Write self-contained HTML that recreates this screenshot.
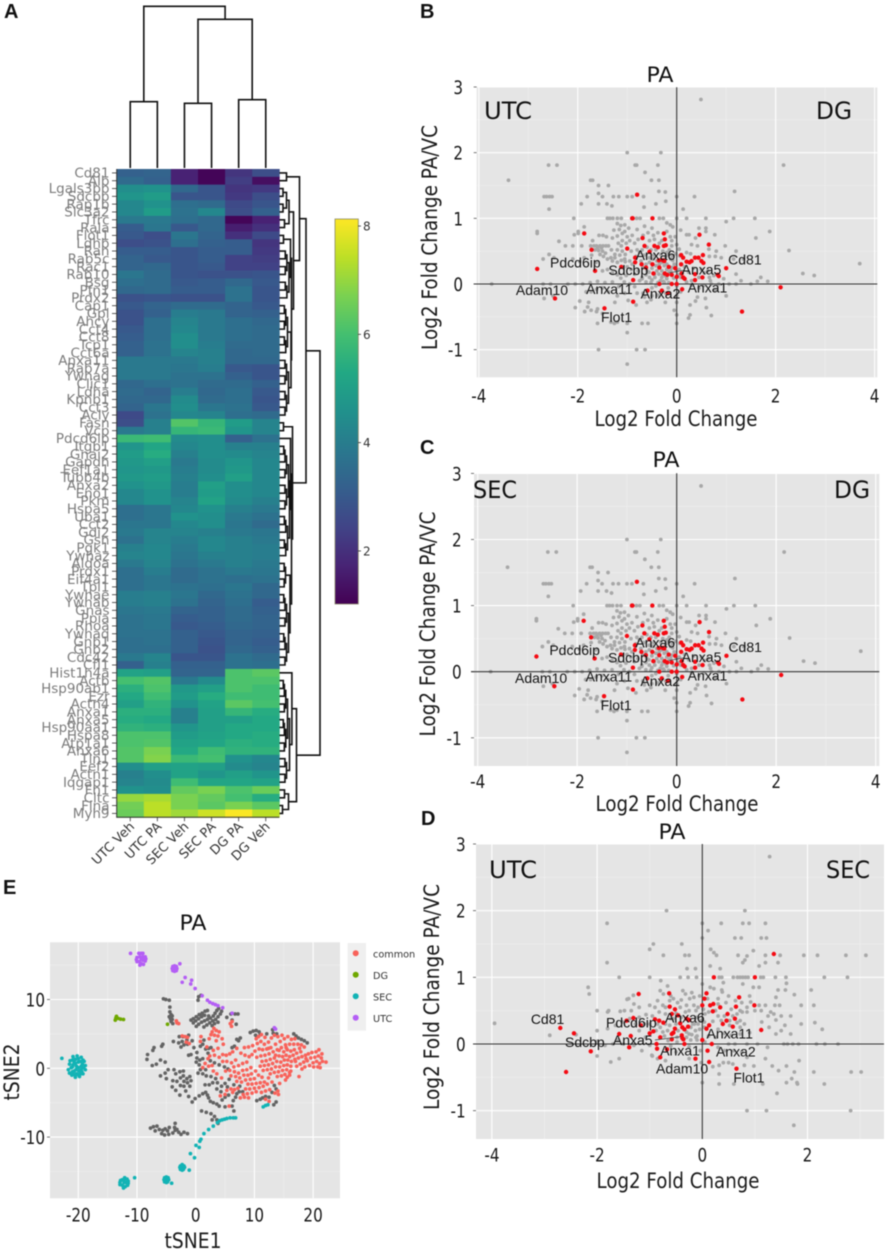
<!DOCTYPE html>
<html lang="en">
<head>
<meta charset="utf-8">
<title>Proteomics heatmap, volcano-style scatter plots and tSNE</title>
<style>
html,body{margin:0;padding:0;background:#fff}
svg{display:block;filter:blur(.4px)}
text{font-family:"DejaVu Sans",sans-serif}
.pl{font-family:"Liberation Sans",Arial,sans-serif;font-weight:bold;font-size:20px;fill:#111}
.ti{font-size:21px;fill:#111;text-anchor:middle}
.ax{font-size:21px;fill:#1a1a1a;text-anchor:middle}
.cn{font-size:24px;fill:#111}
</style>
</head>
<body>
<svg id="fig" xmlns="http://www.w3.org/2000/svg" width="886" height="1251" viewBox="0 0 886 1251">
<rect width="886" height="1251" fill="#fff"/>

<text class="pl" x="4" y="18">A</text>
<text class="pl" x="420" y="18">B</text>
<text class="pl" x="420" y="454">C</text>
<text class="pl" x="421" y="825">D</text>
<text class="pl" x="3" y="894">E</text>

<g id="heatmap"></g>
<g id="panelB"></g>
<g id="panelC"></g>
<g id="panelD"></g>
<g id="panelE"></g>

<!-- Panel B text -->
<text class="ti" x="660" y="82" textLength="27" lengthAdjust="spacingAndGlyphs">PA</text>
<text class="cn" x="484" y="119" textLength="48" lengthAdjust="spacingAndGlyphs">UTC</text>
<text class="cn" x="816" y="119" textLength="36" lengthAdjust="spacingAndGlyphs">DG</text>
<text class="ax" x="676" y="426" textLength="163" lengthAdjust="spacingAndGlyphs">Log2 Fold Change</text>
<text class="ax" transform="translate(437,237.5) rotate(-90)" textLength="225" lengthAdjust="spacingAndGlyphs">Log2 Fold Change PA/VC</text>
<!-- Panel C text -->
<text class="ti" x="666" y="467" textLength="27" lengthAdjust="spacingAndGlyphs">PA</text>
<text class="cn" x="473" y="498" textLength="44" lengthAdjust="spacingAndGlyphs">SEC</text>
<text class="cn" x="834" y="498" textLength="36" lengthAdjust="spacingAndGlyphs">DG</text>
<text class="ax" x="677" y="811" textLength="163" lengthAdjust="spacingAndGlyphs">Log2 Fold Change</text>
<text class="ax" transform="translate(435,624) rotate(-90)" textLength="225" lengthAdjust="spacingAndGlyphs">Log2 Fold Change PA/VC</text>
<!-- Panel D text -->
<text class="ti" x="672" y="839" textLength="27" lengthAdjust="spacingAndGlyphs">PA</text>
<text class="cn" x="489" y="878" textLength="48" lengthAdjust="spacingAndGlyphs">UTC</text>
<text class="cn" x="826" y="878" textLength="44" lengthAdjust="spacingAndGlyphs">SEC</text>
<text class="ax" x="678" y="1188" textLength="163" lengthAdjust="spacingAndGlyphs">Log2 Fold Change</text>
<text class="ax" transform="translate(439,997) rotate(-90)" textLength="226" lengthAdjust="spacingAndGlyphs">Log2 Fold Change PA/VC</text>
<!-- Panel E text -->
<text class="ti" x="193" y="930" textLength="27" lengthAdjust="spacingAndGlyphs">PA</text>
<text class="ax" x="193" y="1248" textLength="57" lengthAdjust="spacingAndGlyphs">tSNE1</text>
<text class="ax" transform="translate(19,1072) rotate(-90)" textLength="57" lengthAdjust="spacingAndGlyphs">tSNE2</text>
</svg>

<script>
/* ---------- heatmap data ---------- */
const heatColumns = ['UTC Veh','UTC PA','SEC Veh','SEC PA','DG PA','DG Veh'];
const heatGenes = ['Cd81','Alb','Lgals3bp','Sdcbp','Rap1b','Slc3a2','Tfrc','Rala','Flot1','Ldhb','Ran','Rab5c','Rac1','Rab10','Bsg','Pfn1','Prdx2','Cap1','Gpi','Ahcy','Cct4','Cct8','Tcp1','Cct6a','Anxa11','Rab7a','Ywhag','Clic1','Ldha','Kpnb1','Cct3','Acly','Fasn','Vcp','Pdcd6ip','Itgb1','Gnai2','Gapdh','Eef1a1','Tubb4b','Anxa2','Eno1','Pkm','Hspa5','Uba1','Cct2','Gdi2','Gsn','Pgk1','Ywhaz','Aldoa','Prdx1','Eif4a1','Tpi1','Ywhae','Ywhab','Gnas','Ppia','Rhoa','Ywhaq','Gnb1','Gnb2','Cdc42','Cfl1','Hist1h4a','Actb','Hsp90ab1','Ezr','Actn4','Anxa1','Anxa5','Hsp90aa1','Hspa8','Atp1a1','Anxa6','Tln1','Eef2','Actn1','Iqgap1','Fn1','Cltc','Flna','Myh9'];
const heatValues = [
[3.2,3.3,1.7,1.1,2.1,2.7],[3.5,3.2,1.7,1.1,2.3,1.3],[4.5,4.6,3.4,2.9,2.1,2.2],[4.7,4.9,2.9,2.9,2.2,2.7],
[4.3,4.6,3.6,3.5,2.6,2.9],[4.3,4.9,3.7,4.3,2.7,3.2],[3.9,3.9,3.6,3.4,1.1,1.7],[3.1,3.8,3.0,3.4,1.6,2.0],
[3.0,2.7,3.8,3.3,2.0,2.6],[2.7,2.8,3.6,3.2,3.1,2.1],[3.1,3.1,2.9,3.1,3.1,2.2],[3.3,3.0,2.9,3.1,2.4,2.3],
[3.3,3.4,2.9,3.0,2.4,2.4],[3.8,3.5,2.9,2.8,2.8,2.9],[3.6,3.5,3.0,3.1,3.4,3.0],[3.4,3.5,3.1,3.1,3.7,2.9],
[2.8,2.9,2.8,2.8,3.7,2.9],[3.0,3.3,3.5,3.5,3.3,3.0],[2.8,3.2,4.0,3.9,3.3,3.2],[2.8,3.6,4.2,3.9,3.6,3.4],
[3.0,3.6,4.3,3.9,3.6,3.5],[3.1,3.6,4.5,3.9,3.6,3.5],[3.2,3.7,4.5,4.0,3.5,3.5],[3.2,3.7,4.2,4.1,3.4,3.5],
[3.9,3.9,3.9,4.1,3.4,3.4],[3.9,3.9,3.8,4.0,3.0,2.9],[3.9,3.9,3.7,3.7,3.2,2.9],[3.4,3.6,3.7,3.5,3.5,3.2],
[3.5,3.3,4.0,3.4,3.6,3.0],[3.4,3.4,4.4,3.5,3.6,2.9],[3.3,3.8,4.5,3.8,3.7,3.0],[2.6,3.7,4.3,4.2,3.6,3.5],
[2.7,4.1,6.2,5.7,4.9,4.2],[3.9,4.1,5.7,5.8,4.7,4.2],[5.8,5.9,4.4,4.5,3.2,3.7],[4.7,5.2,4.3,4.5,4.1,4.1],
[4.9,5.4,4.1,4.5,4.4,4.2],[4.8,5.0,3.9,4.4,4.7,4.3],[4.7,4.8,4.0,4.4,4.8,4.3],[4.8,4.9,4.1,4.5,5.0,4.3],
[4.6,4.8,4.0,5.0,4.5,4.3],[4.3,4.6,4.0,4.9,4.5,4.3],[4.3,4.6,4.2,5.1,4.4,4.1],[3.6,3.8,4.3,4.6,4.1,3.9],
[3.6,3.8,4.6,4.5,3.9,3.7],[3.8,3.8,4.3,4.5,3.8,3.5],[3.9,4.2,4.2,4.1,3.9,3.8],[3.7,4.2,4.0,4.3,4.1,3.9],
[4.1,4.3,3.9,4.3,4.1,4.0],[4.2,4.3,3.8,4.1,4.1,4.0],[3.9,4.2,3.7,3.9,4.1,3.9],[3.6,4.0,3.5,3.7,3.9,3.8],
[3.6,3.8,3.5,3.7,3.6,3.7],[3.6,3.8,3.7,3.6,3.8,3.4],[4.0,4.1,3.8,3.4,3.7,3.4],[4.0,4.1,3.7,3.3,3.6,3.1],
[3.8,3.9,3.3,3.2,3.5,3.2],[3.7,3.8,3.1,3.2,3.5,3.3],[3.7,3.8,3.0,3.1,3.4,3.3],[3.7,3.7,3.2,3.0,3.3,3.2],
[3.6,3.7,3.2,2.9,3.3,3.1],[3.6,3.6,3.2,2.8,3.4,3.2],[3.9,4.2,2.9,2.9,3.7,3.5],[3.2,4.1,3.2,3.2,3.7,3.6],
[5.1,5.0,3.3,3.3,6.1,6.3],[6.0,6.2,3.9,4.4,6.1,6.1],[5.5,6.1,4.8,5.0,6.1,5.9],[5.3,5.9,4.9,5.4,5.9,5.9],
[5.0,5.6,4.6,5.1,6.3,6.0],[5.5,5.5,4.1,5.0,5.7,5.4],[5.4,5.3,4.1,5.0,5.0,5.3],[5.6,5.5,4.7,5.0,5.3,5.3],
[6.1,6.1,4.9,5.1,5.3,5.4],[6.1,6.2,5.1,5.2,5.5,5.4],[6.2,6.7,5.3,5.9,5.6,5.6],[6.2,6.8,5.8,6.0,4.6,4.3],
[4.5,5.0,5.1,5.0,4.4,4.2],[4.1,4.5,5.1,4.7,5.0,4.7],[4.2,4.4,5.9,5.2,5.2,5.1],[4.6,4.5,6.4,6.7,6.1,6.5],
[7.0,7.2,6.7,6.4,6.0,5.4],[6.6,7.4,6.7,6.3,6.7,6.3],[6.5,7.4,7.1,7.6,8.1,7.4]];
const colorbarTicks = [2,4,6,8];
/* dendrograms: [merge height, left, right]; leaves are indices; ['s',a,b,h] is a compact block of neighbouring leaves */
const colTree = [161.7,[66.3,0,1],[148.7,[64.7,2,3],[68.3,4,5]]];
const rowTree = [40.5,
 [26.5,
  [20,[7,0,1],[14,
    [9.5,[7,[3.5,2,3],[3.5,4,5]],[5,6,7]],
    [12,[11,[4,8,9],['s',10,16,9.5]],[11.5,['s',17,23,8],['s',24,31,9]]]]],
  [13,[4,32,33],[12,[11,34,[10,['s',35,43,9],['s',44,49,8]]],[10.5,['s',50,53,6],['s',54,63,9]]]]],
 [17,[12.4,64,[10,['s',65,74,8],['s',75,78,7]]],[9,[5,79,80],[3,81,82]]]];

/* ---------- shared scatter data: log2 fold change, PA/VC ---------- */
const greyPointsBC = [[.49,2.81],[-1,2],[-.32,2],[2.16,1.81],[-2.59,1.81],[-2.42,1.81],[-.84,1.81],[-.81,1.81],[-.38,1.81],[-.64,1.7],[-3.4,1.58],[-1.74,1.58],[-1.7,1.58],[-.51,1.58],[-.36,1.58],[-1.58,1.5],[-1.38,1.5],[1.17,1.41],[-.36,1.41],[-.23,1.4],[-2.68,1.33],[-2.63,1.33],[-2.57,1.33],[-2.52,1.33],[-1.81,1.33],[-1.58,1.38],[-1.5,1.33],[-1.28,1.33],[-1.17,1.33],[-1,1.33],[-.9,1.33],[-.67,1.33],[0,1.33],[.36,1.33],[-1.93,1.22],[-1.58,1.22],[-1.41,1.22],[-1.31,1.19],[-.42,1.22],[-.22,1.26],[-.66,1.17],[-2.58,1.14],[.13,1.14],[-2.08,1],[-1.4,1],[-1.35,1],[-1.29,1],[-1.2,1],[-1.12,1],[-.81,1],[-.74,1],[-.35,1],[-.27,1],[0,1],[.2,1],[.59,1],[1.15,1],[1.58,1],[1,.95],[-1.87,.87],[-1.99,.8],[-1.99,.77],[-2.82,.8],[-2.82,.77],[-2.07,.75],[1.88,.8],[1.6,.7],[2.27,.51],[2.55,.16],[2.78,.13],[3.7,.31],[-3.74,0],[-2.7,0],[-2.55,0],[-2.5,-.18],[-2.68,-.22],
[-1.2,.92],[-1.13,.89],[-1.05,.9],[-.65,.88],[-.5,.85],[-.2,.93],[-.13,.9],[-.08,.87],[-1.27,.82],[-1.16,.83],[-1.05,.8],[-.97,.85],[-.8,.83],[.45,.85],[.59,.85],[.59,.8],[.77,.75],[.08,.82],[.2,.75],[.25,.75],[.38,.7],[-.38,.78],[-.47,.74],[-.58,.78],[-.68,.74],[-.9,.74],[-1,.72],[-1.1,.77],[-1.2,.73],[-1.3,.7],[-1.42,.72],[-1.49,.74],[-1.57,.74],[-1.7,.66],[-2.1,.58],[-2.25,.58],[-2.38,.65],[-1.92,.58],[-1.74,.58],[-1.67,.58],[-1.62,.58],[-1.55,.58],[-1.49,.58],[-1.43,.58],[-1.38,.58],[-1.65,.52],[-1.58,.51],[-1.5,.5],[-1.44,.47],[-1.32,.52],[-1.2,.52],[-1.1,.5],[-1.04,.45],[-.92,.5],[-.8,.52],[-.7,.52],[-.1,.58],[0,.6],[.05,.53],[-.1,.66],[-.03,.72],[-.13,.72],[-.2,.8],[-.15,.52],[.3,.6],[.42,.58],[.65,.53],[.98,.58],[.8,.5],[.9,.4],[.78,.42],[.66,.42],[1.2,.5],[1.15,.38],[1.35,.38],[1.2,.15],[1.3,.05],[1.63,.04],[1.7,.1],[1.84,.04],[1.5,0],[1.2,0],[1.06,0],[.95,.08],[.63,.2],[.75,.13],[.68,.05],[.5,.22],[.28,.46],[.2,.48],[.06,.43],[-.02,.46],[-.08,.43],[-.12,.38],[-.2,.48],[-.32,.45],[-.46,.44],[-.55,.4],[-.66,.44],[-.72,.35],[-2.1,.38],[-2.7,.38],[-2.58,.45],[-2.48,.4],[-1.96,.34],[-1.87,.4],[-1.72,.44],[-1.63,.33],[-1.33,.4],[-1.25,.4],[-1.2,.33],[-1.12,.36],[-1.04,.34],[-1.0,.26],[-.92,.22],[-1.4,.22],[-1.5,.2],[-1.3,.17],[-1.2,.14],[-1.13,.09],[-1.06,.03],[-1.02,.13],[-.7,.08],[-.62,.03],[-.5,.06],[-.44,.1],[-.4,.2],[-.36,.15],[-.3,.1],[-.27,.04],[-.2,.08],[-.16,.02],[-.42,.28],[-.5,.24],[-.56,.18],[-.3,.2],[-.2,.3],[-.12,.2],[-.06,.09],[.05,.22],[.08,.1],[.16,.26],[.24,.18],[.34,.24],[.45,.1],[.56,.17],[.66,.1],[.2,.03],[.3,.05],
[-2.2,0],[-2.05,0],[-1.9,0],[-1.75,.02],[-1.6,.04],[-1.45,.02],[-1.3,.03],[-1.17,-.04],[-.95,0],[-.85,-.04],[-.5,-.06],[-.42,-.03],[.0,-.03],[.3,-.02],[.55,-.02],[.7,0],[.85,0],[1,-.18],[.78,-.1],[.58,-.22],[.45,-.06],[.38,-.26],[.27,-.32],[.08,-.12],[0,-.18],[0,-.28],[-.05,-.4],[-.17,-.06],[-.22,-.14],[-.23,-.28],[-.38,-.17],[-.5,-.18],[-.52,-.24],[-.6,-.28],[-.65,-.2],[-.68,-.14],[-.98,-.25],[-.8,-.14],[-.82,-.32],[-1.05,-.14],[-1.2,-.18],[-1.25,-.28],[-1.38,-.12],[-1.5,-.06],[-1.62,-.08],[-1.73,-.12],[-1.83,-.12],[-1.96,-.26],[-2.05,-.36],[-1.86,-.42],[-1.8,-.35],[-1.78,-.28],[-1.73,-.4],[-1.62,-.42],[-1.6,-.38],[-1.5,-.45],[-1.6,-.6],[-1.33,-.58],[-1.26,-.6],[-1.2,-.58],[-1,-.6],[-.7,-.6],[-.58,-.6],[0,-.6],[.24,-.52],[.7,-.48],[0,-.47],[.27,-.47],[-1,-.74],[-1.58,-1],[-.81,-1],[-.64,-1],[-1,-1.22],[.42,-.2],[.6,-.36],
[-.7,.1],[-.62,.14],[-.55,.1],[-.62,.3],[-.55,.33],[-.48,.38],[-.4,.35],[-.35,.3],[-.3,.33],[-.25,.28],[-.2,.22],[-.15,.18],[-.1,.25],[-.05,.3],[0,.2],[.03,.14],[-.28,.14],[-.33,.05],[-.38,.02],[-.25,.02],[-.22,.12],[-.45,.15],[-.52,.02],[-.6,.2],[-.68,.25],[-.78,.2],[-.85,.15],[-.75,.05],[-.82,.42],[-.75,.48],[-.6,.56],[-.52,.52],[-.42,.52],[-.35,.62],[-.28,.5],[-.22,.42],[-.15,.45],[-.08,.36],[-1.55,.45],[-1.48,.42],[-1.4,.38],[-1.3,.35],[-1.25,.45],[-1.15,.44],[-1.05,.38],[-.95,.35],[-.9,.3],[-1.6,.55],[-1.52,.55],[-1.18,.62],[-1.1,.66],[-1.02,.62],[-1.12,.58],[-.95,.66],[-.85,.62],[-.78,.68],[-.55,.66],[-.45,.68],[-.3,.66]];
const redPointsBC = [[-.8,1.36],[-.9,1],[-.89,1],[-.49,1],[-1.87,.77],[-.69,.7],[-.26,.77],[.46,.75],[-.24,.68],[.65,.6],[-1,.54],[-1.72,.52],[-.45,.58],[-.38,.56],[-.26,.58],[-.22,.59],[-.65,.58],[-.55,.49],[-.84,.4],[-.84,.33],[.09,.44],[.13,.4],[.37,.4],[.44,.4],[.53,.44],[.5,.35],[.54,.32],[.2,.34],[.26,.33],[.3,.35],[.09,.3],[-.36,.36],[-.28,.36],[-.25,.35],[-.49,.3],[-.71,.3],[-.62,.25],[-1.12,.26],[-2.82,.23],[-1.65,.2],[-.35,.25],[-.16,.26],[-.03,.24],[1,.24],[-.47,.16],[-.24,.16],[-.19,.14],[-.1,.14],[.1,.16],[.37,.15],[.83,.14],[-.88,.06],[0,.11],[.13,.1],[.16,.08],[.37,.06],[.52,.1],[.85,.12],[-.35,0],[-.1,0],[0,0],[.11,-.08],[-.3,-.1],[-.59,-.1],[-.88,-.27],[-2.46,-.22],[-1.46,-.37],[1.32,-.42],[2.1,-.05],[-.18,-.14]];
const annotationLabelsBC = ['Pdcd6ip','Anxa6','Cd81','Sdcbp','Anxa5','Adam10','Anxa11','Anxa1','Anxa2','Flot1'];
const annotationXBC = [-2.56,-.83,1.04,-1.38,.10,-3.25,-1.83,.22,-.73,-1.53];
const annotationYBC = [.25,.365,.30,.14,.147,-.17,-.152,-.132,-.218,-.579];

const greyPointsD = [[1.28,2.81],[-.68,2],[.81,2],[-1.81,1.81],[0,1.81],[.36,1.81],[.77,1.81],[.89,1.81],[1.2,1.81],[.11,1.7],[0,1.59],[.62,1.59],[.74,1.59],[1.12,1.59],[1.22,1.59],[-.93,1.5],[-.39,1.5],[-1,1.42],[.16,1.42],[.22,1.37],[.97,1.4],[.85,1.32],[-.74,1.33],[-.33,1.33],[-.25,1.33],[.27,1.33],[.68,1.33],[1.2,1.33],[1.48,1.33],[1.93,1.33],[2.19,1.33],[2.73,1.33],[3.11,1.33],[-1.81,1.22],[.81,1.26],[.77,1.22],[1.2,1.22],[1.44,1.22],[-.29,1.13],[-.13,1.13],[.15,1.17],[.34,1.13],[1.08,1.17],[-1.58,1],[-1,1],[-.42,1],[-.27,1],[-.11,1],[.32,1],[.37,1],[.59,1],[.67,1],[.72,1],[.77,1],[.82,1],[.87,1],[1.11,1],[1.16,1],[1.39,1],[1.59,1],[2.32,1],[2.76,1],[-.79,.95],[1.6,.91],[-2.17,.85],[-2.15,.75],[-.66,.87],[0,.9],[.15,.85],[.22,.83],[.37,.81],[.4,.92],[.77,.9],[.97,.85],[1.08,.85],[1.44,.81],[1.58,.81],[2.07,.81],[-1.31,.73],[-1.4,.68],[-1.43,.67],[-.8,.8],[-.74,.75],[-.6,.72],[-.37,.8],[-.32,.75],[-.4,.66],[-.2,.77],[-.16,.7],[-.24,.68],[-.05,.72],[.1,.68],[.3,.68],[.38,.78],[.5,.72],[.9,.72],[.63,.65],[.75,.62],[.92,.63],[1.08,.58],[1.2,.58],[1.4,.7],[1.38,.58],[1.47,.58],[1.88,.58],[1.75,.74],[2.12,.58],[-1.3,.6],[-1.2,.55],[-2,.5],[-1.8,.48],[-1.78,.5],[-1.56,.49],[-1.48,.5],[-1.35,.5],[-1,.58],[-.9,.55],[-.75,.58],[-.62,.65],[-.47,.62],[-.3,.58],[-.12,.5],[.05,.45],[.25,.5],[.42,.42],[.66,.45],[.72,.5],[.76,.48],[.85,.48],[1,.5],[1.12,.5],[1.3,.48],[1.36,.45],[1.25,.42],[1.5,.42],[1.68,.42],[1.4,.36],[1.57,.28],[1.88,.3],[2.28,.22],[2.14,.32],[1.13,.33],[1.27,.25],[1.4,.15],[1.5,.2],[1.68,.15],[.8,.3],[.72,.35],[.52,.28],[.3,.22],[.42,.16],[.55,.13],[.72,.15],[.9,.17],[.2,.34],[.04,.33],[-.1,.4],[-.18,.3],[-.13,.2],[-.05,.22],[-.2,.14],[-.1,.12],[-.6,.38],[-.7,.45],[-.82,.48],[-.95,.42],[-1.07,.44],[-1.2,.4],[-1.27,.3],[-1.38,.38],[-1.52,.33],[-1.65,.28],[-1.8,.23],[-2,.2],[-2.9,.13],[-3.95,.31],[-2.4,.14],[-1.2,.2],[-1.08,.1],[-.88,.2],[-.72,.12],[-.66,.2],[-.48,.1],[-.3,.1],[-.22,.06],[-.1,.06],[-1.6,.06],[-2,.04],[-1.85,-.02],[-1.7,0],[-1.5,0],[-1.3,-.02],[-1.15,-.1],[-1,-.02],[-.95,-.18],[-.6,-.03],[-.5,-.12],[-.25,-.04],[-.04,-.1],[-.25,-.22],[-.02,-.28],[.3,-.05],[.5,0],[.62,0],[.85,0],[1.05,0],[1.24,-.05],[1.55,0],[1.62,0],[1.72,0],[1.83,0],[2.17,0],[2.33,0],[2.58,0],[.42,-.1],[.6,-.1],[.75,-.12],[.85,-.2],[.4,-.28],[.5,-.28],[.58,-.3],[.2,-.34],[.32,-.32],[.8,-.32],[.98,-.33],[1.2,-.22],[1.33,-.33],[1.45,-.4],[1.6,-.33],[1.84,-.25],[2.12,-.42],[2.83,-.42],[3.02,-.42],[1.75,-.42],[1.7,-.52],[1.6,-.58],[1.8,-.58],[1.81,-.6],[2.32,-.6],[1.15,-.6],[.6,-.6],[.32,-.6],[.32,-.45],[0,-.58],[1.42,-.74],[.85,-1],[1.22,-1],[2.82,-1],[1.74,-1.22],[-2,-.18],[-1.74,-.27],[-1.58,-.22],[-.96,-.17],[-.85,-.22],[-.7,-.25],
[-.7,.3],[-.62,.28],[-.5,.3],[-.46,.2],[-.3,.18],[-.22,.25],[-.15,.3],[-.08,.3],[-.02,.35],[.04,.25],[-.55,.38],[-.4,.4],[-.32,.48],[-.25,.5],[-.16,.58],[-.08,.55],[.02,.52],[.12,.48],[.3,.42],[.36,.35],[.52,.35],[.58,.42],[.66,.32],[.72,.25],[-.8,.25],[-.85,.3],[-1,.3],[-1.1,.3],[-.75,.18],[-.65,.05],[-.48,.03],[-.25,.15],[-.12,.1],[-.5,.46],[-.42,.55],[-.7,.55],[-.85,.65],[-.55,.68],[.3,.6],[.45,.62],[.55,.52],[.85,.55],[.12,.12],[.25,.1],[.05,.03]];
const redPointsD = [[1.36,1.35],[.22,1],[1,1],[-1.21,.75],[-.63,.76],[.08,.76],[.7,.7],[.04,.68],[.21,.6],[.15,.58],[0,.58],[-.62,.56],[.34,.55],[.64,.56],[.99,.58],[-.52,.52],[.2,.49],[-.58,.45],[.48,.45],[-.46,.43],[-1.31,.39],[-1.44,.35],[-.9,.37],[-.82,.35],[-.74,.32],[-.3,.38],[-.25,.36],[.62,.38],[.46,.35],[.39,.3],[.13,.28],[-.42,.31],[-1.17,.28],[-.27,.26],[.08,.23],[.58,.26],[1.12,.21],[-.38,.25],[-.52,.23],[-.34,.22],[-.93,.19],[-1,.16],[-2.7,.24],[-2.44,.16],[-1.58,.15],[-1.36,.12],[-.58,.15],[-.55,.17],[-.39,.13],[-.8,.1],[-.58,.07],[-.38,.09],[-.36,.07],[0,.06],[-.34,0],[-.87,0],[.18,0],[-.86,-.07],[-1.39,-.05],[-2.12,-.11],[-.67,-.08],[.1,-.1],[-.8,-.2],[-.13,-.22],[.13,-.27],[.65,-.37],[-2.59,-.42]];
const annotationLabelsD = ['Cd81','Pdcd6ip','Anxa6','Sdcbp','Anxa5','Anxa11','Anxa1','Anxa2','Adam10','Flot1'];
const annotationXD = [-3.26,-1.83,-.71,-2.61,-1.70,.08,-.80,.26,-.88,.59];
const annotationYD = [.30,.25,.325,-.045,-.015,.08,-.17,-.19,-.44,-.58];

/* ---------- tSNE data ---------- */
const tsneNotSignificant = [[-5.5,10.1],[-5.1,10],[-4.5,9.9],[-4.4,8.9],[-4.4,8.2],[-4.2,7.8],[-4.5,7.5],[-4,7.6],[-4.3,7.2],[-4,7.1],[-4.2,6.8],[-3.9,6.5],[.5,10.4],[.9,10.6],[.4,9.9],
[-.8,7],[-.4,7.2],[.1,7.5],[.6,7.8],[1.1,8],[1.6,8.3],[2,8.4],[-.4,6.6],[0,6.9],[.5,7.2],[1,7.5],[1.5,7.7],[2.2,7.6],[.1,6.1],[.5,6.4],[1,6.7],[1.5,6.9],[2,7.1],[2.5,7.3],[3,7.6],[3.3,8],[3.6,8.4],[3.9,8.7],[1.4,6],[1.9,6.3],[2.4,6.6],[2.9,6.9],[3.4,7.1],[3.8,7.5],[4.2,7.9],[4.4,8.3],[2.8,6.2],[3.2,6.5],[3.8,6.7],[6,7.9],[6.7,7.9],[7.2,7.9],[5.3,7.4],[6.2,7],[6.9,6.4],
[9.3,5.2],[9.8,5.4],[10.3,5.5],[10.8,5.3],[10.2,4.8],[11,4.9],[12.1,5],[13.1,5.6],[13.2,5.1],[13.8,5],[16.7,5],[17.1,4.7],[17.5,4.4],[18,4.2],[18.5,4],[19,3.7],[7,4.2],[7.6,4.4],[7.3,4],[6.6,3.2],[6.2,3],[2.6,3],[2.2,2.9],
[-3.8,3.9],[-2.8,4.6],[-2.2,4.6],[-1.2,4.8],[-2.9,3.7],[-2.3,3.9],[-1.5,4.1],[-2.5,3.1],[-2,3.4],[-1.4,3.5],[-.6,4],[-.3,3],[-.8,2],[-1.2,1.9],[.2,2.3],[.8,3.2],[1.4,4.1],[1.2,3.5],[1.7,2.8],[2.1,2.2],[1.2,1.4],[.7,1.2],[.2,1.5],[.1,.9],[.6,.5],[.8,-.2],[.4,-.7],[1.2,-.8],[1.8,-1.1],[2.6,-1.2],[1.7,-.2],[2.5,1.1],[3.2,.8],[4,.5],[4.9,.2],[5.5,-.1],[3.4,-1.5],[2.9,-2.1],[3.7,-2.1],[4.4,-2.6],[5,-2.2],[5.7,-1.6],[5.4,-2.7],[6.5,-2.4],[2.3,-2.4],[1.6,-2.4],[3.6,-3],[4.3,-3.4],
[-8.2,2],[-8.3,1.3],[-7.3,2.6],[-7.1,3],[-5.8,3.2],[-5.6,3.5],[-6.7,.6],[-6,1.2],[-5.2,.9],[-4.7,-.2],[-5.2,-.7],[-6,-1.1],[-5,-1.5],[-3.7,-.2],[-7.4,.4],
[-2.1,-.4],[-2.7,-.5],[-3.4,-.8],[-2.1,-1.1],[-2.6,-1.4],[-3.2,-1.9],[-3.9,-1.8],[-1.5,-1.5],[-2,-1.9],[-1,-1.2],[-.8,-1.8],[-1.4,-2.1],[-2.6,-2.5],[-2,-2.6],[-1,-2.6],[-4,-2.7],[-3.4,-3.2],[-2.7,-3.9],[-1.7,-3.3],[-1.2,-4.1],[-.6,-4.9],[-.1,-4.4],[.6,-4],[1.2,-3.7],[1.7,-3.5],[2,-3.9],[2.2,-4.3],[2.5,-4.8],[3,-5],[3.6,-5.2],[4,-5.5],[4.5,-4.6],[5,-4.2],[5.6,-3.9],[5,-5.6],[6.2,-5.5],[6.4,-4.7],[6.8,-4.2],[7,-3.7],[7.4,-3.4],[6.5,-6.2],[7.5,-2.6],[8,-3.4],[10.4,-4.7],[11,-4.5],[11.4,-4.3],[11.9,-4.1],[12.5,-4.2],[13,-3.5],[13.7,-3],[13.4,-2.5],[13.7,-4.9],[13.3,-5.3],[1,-6.2],[1.8,-6.4],[2.6,-6.6],[3.2,-7],[2.8,-7.5],[3.6,-7.5],[3.8,-8],
[-7.7,-8.7],[-7.2,-8.5],[-6.6,-8.4],[-6.9,-9.1],[-6.2,-8.9],[-5.6,-9],[-5.8,-9.5],[-5.3,-9.7],[-5.2,-8.8],[-4.8,-9.1],[-4.5,-8.6],[-4.6,-9.6],[-3.9,-9.4],[-3.5,-9],[-3.6,-8.6],[-3.5,-8],[-3.2,-8.9],[-2.9,-9.3],[-2.5,-9.6],[-2,-9.3],[-1.4,-9.5]];
const tsneCommon = [[-2.3,4.7],[-1.8,4.6],[-1.4,4.5],[-1.6,3.8],[-1.1,3.6],[.9,4.6],[.8,3.9],[2.8,5.3],[3.1,5.8],[3.5,5.5],[4,5.3],[2.6,4.9],[3.2,4.8],[3.8,4.7],[4.5,4.3],[2.3,4.3],[3.5,4],[4.7,3.5],[5.9,6.5],[6.2,6.8],[6.1,6.1],[-2.9,6.5],[-3.2,6.6],[-3.3,6.9],[1.9,3.1],[3,2.6],[3.8,2.9],[3.2,1.9],[4,1.6],[4.6,2],[5.2,1.9],[5.8,2.1],[6.3,2.4],[2.4,1.8],[2.1,1.4],[4.6,1],[5.3,1],[6.1,.8],[6.8,1.2],[6.5,.2],[7.3,.4],[8,.7],[8.7,.9],[5.1,-.4],[5.8,-.3],[6.6,-.5],[7.3,-.7],[8,-.3],[8.7,-.2],[9.4,.1],[6,-1.1],[6.8,-1.2],[7.5,-1.4],[8.2,-1],[8.9,-1],[9.5,-.8],[10.2,-.4],[7,-1.9],[7.8,-2],[8.5,-1.7],[9.3,-1.6],[10,-1.5],[10.7,-1],[11.3,-1.3],[8.9,-2.3],[9.6,-2.3],[10.3,-2.2],[11,-2.1],[11.7,-2],[12.4,-1.4],[8.5,-3],[9.2,-3],[10,-2.9],[10.8,-2.8],[11.5,-2.6],[12.2,-2.3],[13,-2],[6,-3],[6.6,-3.1],[7.2,-2.9],[8.1,-3.8],[8.8,-3.7],[9.6,-3.6],[10.3,-3.4],[11.2,-3.5],[11.9,-3.3],[12.6,-3.1],[13.5,-3.6],[14.1,-3.8],[14,-3.3],[5.3,-3.2],[5,-3.8],[7.6,-4.3],[8.3,-4.2],[9,-4.3],[11.9,-4.5],[12.5,-4.8],[4.2,-4],[6.3,-3.5],[5.7,-5.5],[3.6,-.8],[3,-.4],[2.2,.3],[1.2,.1],[2.8,.4],[1.6,.7],[4.4,-1.4],[9.1,1.7],[8.4,1.9],[7.7,2.2],[7,2.9],[8.3,3],[9,3.1],[9.7,3.3],[10.5,3.6],[10.3,4.3],[10.7,4.6],[11.2,4.9],[11.8,4.5],[11.1,3.9],[11.7,3.5],[12.4,3.8],[12.9,4.4],[13.4,4.8],[14,4.6],[14.7,4.8],[15.1,4.3],[15.7,4.6],[16.3,4.2],[16.9,4.3],[14.4,3.9],[13.6,3.5],[12.8,3],[12.1,2.8],[11.4,2.7],[10.8,2.8],[10.1,2.5],[9.6,2],[10.4,1.6],[11.1,1.8],[11.8,1.9],[12.5,2.1],[13.2,2.4],[13.9,2.7],[14.6,3],[15.3,3.4],[16,3.5],[16.7,3.5],[17.4,3.5],[18,3.4],[15,2.4],[15.6,2.7],[16.2,2.5],[16.8,2.7],[14.2,1.8],[14.8,1.7],[15.4,1.9],[16,1.7],[16.6,1.9],[17.2,2.2],[17.9,2.4],[13.4,1.5],[12.7,1.3],[12,1.1],[11.3,1],[11,.3],[11.7,.4],[12.4,.5],[13.1,.7],[13.8,1],[14.5,.9],[15.1,1.2],[15.7,1.2],[16.3,1],[16.9,1.3],[17.5,1.5],[18.1,1.7],[18.7,1.9],[19.2,2.1],[11.5,-.3],[12.2,-.2],[12.9,-.1],[13.6,.2],[14.3,.2],[15,.4],[15.6,.5],[16.2,.3],[12.7,-.8],[13.4,-.6],[14.1,-.5],[14.8,-.3],[15.5,-.2],[16.2,-.4],[13.9,-1.2],[14.6,-1.1],[15.2,-.9],[16,-1],[15.3,-1.7],[17.6,-1.2],[17.2,.3],[17.8,.6],[18.4,.9],[19,1.1],[19.6,1.5],[20,.8],[20.6,1],[21.1,.7],[21.6,1],[22.2,.9],[20.3,1.6],[20.9,1.8],[21.4,1.5],[19.8,2.3],[20.5,2.4],[21,2.7],[21.5,2.1],[20.1,.2],[20.8,.2],[21.2,.1],[19.4,.4],[18.6,.2],[18.1,-.1],[18.8,1.4],[14.2,2.6],[15.4,3],[12.4,2.9],[13.6,1.9],[17,1],[17.7,2.9],[18.5,3.1],[16,-.6],[14.3,-2.2],[15.6,-1.3]];
const tsneDG = [[-13.6,7.3],[-13.7,7],[-13.2,7.25],[-12.8,7.15],[-12.3,7.1],[-13.5,7.55],[-4.8,6.4]];
const tsneSEC = [[-20.3,.3],[-21.5,.6],[-21.7,-.2],[-21.4,1.1],[-20.9,1.7],[-20.2,1.8],[-19.5,1.6],[-19,1],[-18.8,.4],[-18.8,-.2],[-19.2,-.8],[-19.8,-1.2],[-20.5,-1.3],[-21.1,-1],[-20.7,.9],[-20,.9],[-19.5,.3],[-19.9,-.4],[-20.7,-.4],[-21,.2],[-20.3,-.8],[-19.4,-.5],[-21.5,-.7],[-21.2,.1],[-21,-.5],[-20.9,.5],[-20.5,1.3],[-20,1.4],[-19.6,1],[-19.3,.6],[-19.1,.1],[-19.5,-.2],[-19.6,-.8],[-20.1,-.9],[-20.7,-.9],[-20.4,-.2],[-20,.1],[-20.5,.7],[-21,1.2],[-19.2,1.2],[-22.8,1.45],
[-12.2,-16.6],[-12.8,-16.3],[-12.9,-16.9],[-12.3,-17.4],[-11.6,-17],[-11.5,-16.4],[-12.1,-15.9],[-12.5,-17],[-11.9,-16.6],[-12.5,-16.2],[-12.9,-16.6],[-12,-17.2],[-11.7,-16.1],[-12.2,-16.2],[-11.5,-16.7],[-10.4,-15.9],
[-5,-16.2],[-5.3,-15.9],[-4.7,-15.9],[-4.8,-16.5],[-5.3,-16.5],[-5.4,-16.2],[-4.6,-16.2],[-5,-15.8],[-5,-16.6],[-4.1,-16.7],[-2.3,-14.4],[-2.6,-14.2],[-2,-14.2],[-2.1,-14.7],[-2.6,-14.7],[-2.7,-14.4],[-1.9,-14.4],[-2.3,-14],[-2.3,-14.8],[-1.1,-14.8],[-.2,-13],[-.9,-12.4],[.6,-11.5],[.05,-11.2],[.9,-10.3],[.7,-10.6],[1.4,-9.5],[2.2,-8.9],[3,-8.4],[3.7,-7.9],[4.1,-7.6],[4.5,-7.5],[4.9,-7.4],[5.3,-7.3],[5.85,-7.2],[6.4,-7.2],[6.8,-7.2],[11.5,-5.6],[11.9,-5.4],[12.3,-5.3]];
const tsneUTC = [[-11.1,16.7],[-9.3,15.9],[-10,16.1],[-10,15.5],[-9.5,15],[-8.9,15.1],[-8.6,15.6],[-8.6,16.2],[-9,16.7],[-9.7,16.7],[-9.5,16.2],[-9,15.7],[-9.6,15.5],[-9,16.2],[-10.1,15.8],[-9.3,16.7],[-9.3,15.2],[-8.5,15.9],[-3.6,14.5],[-3.9,14.8],[-3.3,14.8],[-3.3,14.2],[-3.9,14.2],[-4,14.5],[-3.2,14.5],[-3.6,14.1],[-3.6,14.9],[-2.7,15.2],[-1.8,13.2],[-2.3,12.5],[-.7,12.8],[-.85,12.25],[-.1,11.6],[1.1,10.55],[2,9.9],[2.4,9.6],[2.9,9.4],[3.35,9.25],[3.8,9.1],[4.6,8.8],[6.2,8],[13.4,5.9],[13.6,5.7]];
const tsneXTicks = [-20,-10,0,10,20];
const tsneYTicks = [-10,0,10];
const legendLabels = ['common','DG','SEC','UTC'];
const volcanoXTicksBC = [-4,-2,0,2,4];
const volcanoXTicksD = [-4,-2,0,2];
const volcanoYTicks = [-1,0,1,2,3];

/* ---------- helpers ---------- */
const NS = 'http://www.w3.org/2000/svg';
function mk(parent, tag, attrs) {
  const el = document.createElementNS(NS, tag);
  for (const k in attrs) el.setAttribute(k, attrs[k]);
  parent.appendChild(el);
  return el;
}
const viridis = ['#440154','#482475','#414487','#355f8d','#2a788e','#21918c','#22a884','#44bf70','#7ad151','#bddf26','#fde725'];
function viridisColor(t) {
  t = Math.max(0, Math.min(1, t)) * 10;
  const i = Math.min(9, Math.floor(t)), f = t - i;
  const a = parseInt(viridis[i].slice(1), 16), b = parseInt(viridis[i + 1].slice(1), 16);
  const ch = s => Math.round(((a >> s) & 255) * (1 - f) + ((b >> s) & 255) * f);
  return `rgb(${ch(16)},${ch(8)},${ch(0)})`;
}

/* ---------- heatmap ---------- */
(function () {
  const g = document.getElementById('heatmap');
  const L = 116.7, R = 279.3, T = 169, B = 817.3;
  const cw = (R - L) / heatColumns.length, rh = (B - T) / heatGenes.length;
  const cbMin = 1.02, cbMax = 8.13;
  const colX = i => L + (i + .5) * cw;
  const rowY = i => T + (i + .5) * rh;
  const col = v => viridisColor((v - cbMin) / (cbMax - cbMin));

  heatGenes.forEach((gene, r) => {
    heatColumns.forEach((c, k) => {
      const cell = mk(g, 'rect', {x: L + k * cw, y: T + r * rh, width: cw + .4, height: rh + .4, fill: col(heatValues[r][k])});
      
      
    });
    const tick = mk(g, 'line', {x1: 112, x2: L, y1: rowY(r), y2: rowY(r), stroke: '#333', 'stroke-width': .8});
    
    
    const lab = mk(g, 'text', {x: 109.5, y: rowY(r) + 4.7, 'text-anchor': 'end', 'font-size': 13.5, fill: '#7c7c7c'});
    
    
    lab.textContent = gene;
  });
  const axisV = mk(g, 'path', {d: `M${L} ${T}V${B}H${R}`, fill: 'none', stroke: '#333', 'stroke-width': 1});
  
  
  heatColumns.forEach((c, k) => {
    const t = mk(g, 'line', {x1: colX(k), x2: colX(k), y1: B, y2: B + 4, stroke: '#333', 'stroke-width': .8});
    
    
    const lab = mk(g, 'text', {'text-anchor': 'end', 'font-size': 13, fill: '#333', transform: `translate(${colX(k) + 5},${B + 10}) rotate(-45)`});
    
    
    lab.textContent = c;
  });

  function drawTree(node, toXY, name) {
    if (typeof node === 'number') return {pos: node, h: 0};
    if (node[0] === 's') return drawBlock(node[1], node[2], node[3], toXY, name);
    return drawLink(node[0], drawTree(node[1], toXY, name), drawTree(node[2], toXY, name), toXY, name);
  }
  function drawBlock(a, b, h, toXY, name) {
    if (a === b) return {pos: a, h: 0};
    const m = Math.floor((a + b) / 2);
    const sh = b - a <= 1 ? Math.min(h, 2.5) : h * .78;
    return drawLink(h, drawBlock(a, m, sh, toXY, name), drawBlock(m + 1, b, sh, toXY, name), toXY, name);
  }
  function drawLink(h, l, r, toXY, name) {
    const p = [toXY(l.pos, l.h), toXY(l.pos, h), toXY(r.pos, h), toXY(r.pos, r.h)];
    const link = mk(g, 'path', {d: 'M' + p.map(q => q.join(' ')).join('L'), fill: 'none', stroke: '#111', 'stroke-width': 1.6});
    
    
    return {pos: (l.pos + r.pos) / 2, h: h};
  }
  drawTree(colTree, (p, h) => [colX(p), 168 - h], 'column-dendrogram-link');
  drawTree(rowTree, (p, h) => [279.5 + h, rowY(p)], 'row-dendrogram-link');

  /* colour bar */
  const defs = mk(g, 'defs', {});
  const grad = mk(defs, 'linearGradient', {id: 'vir', x1: 0, y1: 1, x2: 0, y2: 0});
  viridis.forEach((c, i) => mk(grad, 'stop', {offset: i / 10, 'stop-color': c}));
  const bar = mk(g, 'rect', {x: 335, y: 219, width: 23.3, height: 385, fill: 'url(#vir)', stroke: '#8a8a6a', 'stroke-width': .8});
  
  
  const cbY = v => 604 - (v - cbMin) / (cbMax - cbMin) * 385;
  colorbarTicks.forEach(v => {
    const t = mk(g, 'line', {x1: 358, x2: 361, y1: cbY(v), y2: cbY(v), stroke: '#333', 'stroke-width': .8});
    
    
    const lab = mk(g, 'text', {x: 363, y: cbY(v) + 4.5, 'font-size': 12, fill: '#333'});
    
    
    lab.textContent = v;
  });
})();

/* ---------- generic ggplot-style panel ---------- */
function ggPanel(g, box, sx, sy, xTicks, yTicks, xMinor, yMinor, tickBase, tickRight) {
  const bg = mk(g, 'rect', {x: box.l, y: box.t, width: box.r - box.l, height: box.b - box.t, fill: '#e5e5e5'});
  
  
  const gridline = (x1, y1, x2, y2, major) => {
    const l = mk(g, 'line', {x1, y1, x2, y2, stroke: major ? '#fff' : '#f0f0f0', 'stroke-width': major ? 1.1 : .6});
    
    
  };
  xMinor.forEach(v => gridline(sx(v), box.t, sx(v), box.b, false));
  yMinor.forEach(v => gridline(box.l, sy(v), box.r, sy(v), false));
  xTicks.forEach(v => gridline(sx(v), box.t, sx(v), box.b, true));
  yTicks.forEach(v => gridline(box.l, sy(v), box.r, sy(v), true));
  xTicks.forEach(v => {
    const lab = mk(g, 'text', {'font-size': 19, fill: '#1a1a1a', 'text-anchor': 'middle', transform: `translate(${sx(v)},${tickBase}) scale(.8,1)`});
    
    
    lab.textContent = v;
  });
  yTicks.forEach(v => {
    const lab = mk(g, 'text', {'font-size': 19, fill: '#1a1a1a', 'text-anchor': 'end', transform: `translate(${tickRight},${sy(v) + 7}) scale(.8,1)`});
    
    
    lab.textContent = v;
    const t = mk(g, 'line', {x1: box.l - 3, x2: box.l, y1: sy(v), y2: sy(v), stroke: '#555', 'stroke-width': .8});
    
    
  });
}

function volcano(id, box, x0, kx, y0, ky, xTicks, tickBase, tickRight, grey, red, labs, labX, labY, conn) {
  const g = document.getElementById(id);
  const sx = v => x0 + kx * v, sy = v => y0 - ky * v;
  ggPanel(g, box, sx, sy, xTicks, volcanoYTicks, [-3, -1, 1, 3], [-.5, .5, 1.5, 2.5], tickBase, tickRight);
  grey.forEach(p => {
    const c = mk(g, 'circle', {cx: sx(p[0]), cy: sy(p[1]), r: 1.9, fill: '#a8a8a8'});
    
    
  });
  const h = mk(g, 'line', {x1: box.l - 3, x2: box.r, y1: sy(0), y2: sy(0), stroke: '#333', 'stroke-width': 1.1});
  
  
  const v = mk(g, 'line', {x1: sx(0), x2: sx(0), y1: box.t, y2: box.b, stroke: '#333', 'stroke-width': 1.1});
  
  
  red.forEach(p => {
    const c = mk(g, 'circle', {cx: sx(p[0]), cy: sy(p[1]), r: 2.2, fill: '#f40a12'});
    
    
  });
  const cl = mk(g, 'line', {x1: sx(conn[0]), y1: sy(conn[1]), x2: sx(conn[2]), y2: sy(conn[3]), stroke: '#333', 'stroke-width': .7});
  
  
  labs.forEach((name, i) => {
    const t = mk(g, 'text', {x: sx(labX[i]), y: sy(labY[i]), 'font-size': 14, fill: '#111', style: 'font-family:"Liberation Sans",Arial,sans-serif'});
    
    
    t.textContent = name;
  });
}
volcano('panelB', {l: 476.7, r: 877.3, t: 87.3, b: 377.3}, 676.7, 49.47, 284, 65.67, volcanoXTicksBC, 402.7, 463, greyPointsBC, redPointsBC, annotationLabelsBC, annotationXBC, annotationYBC, [-.15, .17, .15, .21]);
volcano('panelC', {l: 474, r: 879.3, t: 473.3, b: 766}, 676.7, 49.75, 671.7, 66.1, volcanoXTicksBC, 788, 461.7, greyPointsBC, redPointsBC, annotationLabelsBC, annotationXBC, annotationYBC, [-.15, .17, .15, .21]);
volcano('panelD', {l: 476, r: 884, t: 844, b: 1139}, 702.3, 52.6, 1044, 66.67, volcanoXTicksD, 1161.7, 465.7, greyPointsD, redPointsD, annotationLabelsD, annotationXD, annotationYD, [-.9, .06, -.41, .11]);

/* ---------- tSNE ---------- */
(function () {
  const g = document.getElementById('panelE');
  const sx = v => 195.7 + 5.87 * v, sy = v => 1068.3 - 6.88 * v;
  ggPanel(g, {l: 50, r: 340, t: 942.3, b: 1198.3}, sx, sy, tsneXTicks, tsneYTicks, [-15, -5, 5, 15], [-15, -5, 5, 15], 1221.7, 45);
  const series = [
    {pts: tsneNotSignificant, col: '#636363', name: 'tsne-point-unassigned'},
    {pts: tsneDG, col: '#6fa800', name: 'tsne-point-dg'},
    {pts: tsneCommon, col: '#f8625a', name: 'tsne-point-common'},
    {pts: tsneSEC, col: '#12b3b5', name: 'tsne-point-sec'},
    {pts: tsneUTC, col: '#b45ef5', name: 'tsne-point-utc'}];
  series.forEach(s => s.pts.forEach(p => {
    const c = mk(g, 'circle', {cx: sx(p[0]), cy: sy(p[1]), r: 1.85, fill: s.col});
    
    
  }));
  const lg = mk(g, 'rect', {x: 347.7, y: 943, width: 18.3, height: 87.7, fill: '#efefef'});
  
  
  const legendColors = ['#f8625a', '#6fa800', '#12b3b5', '#b45ef5'];
  legendLabels.forEach((name, i) => {
    const y = 953.3 + i * 21.5;
    const c = mk(g, 'circle', {cx: 355.7, cy: y, r: 3, fill: legendColors[i]});
    
    
    const t = mk(g, 'text', {x: 373, y: y + 4, 'font-size': 9.7, fill: '#333'});
    
    
    t.textContent = name;
  });
})();
</script>
</body>
</html>
